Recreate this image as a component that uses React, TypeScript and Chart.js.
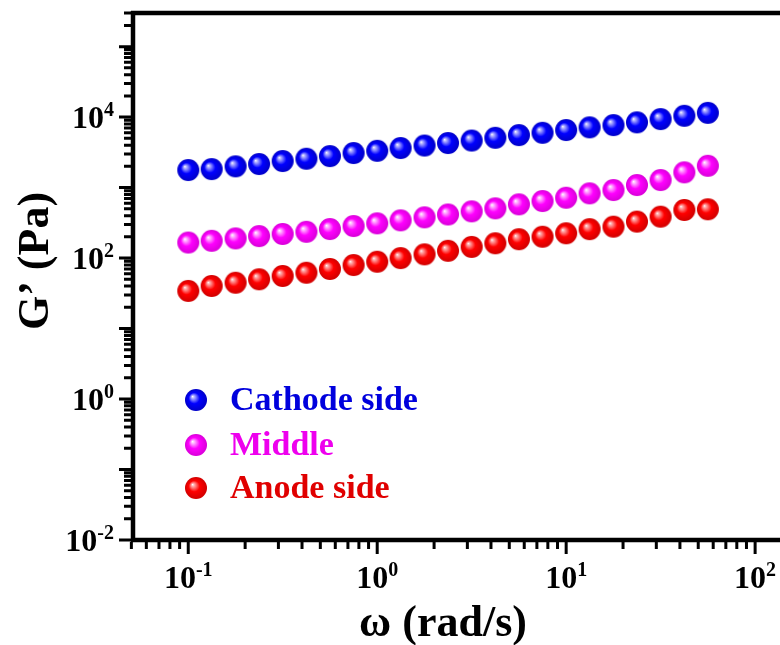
import React, { useEffect, useRef } from "react";
import { Chart, registerables } from "chart.js";

Chart.register(...registerables);

// Angular frequency (rad/s)
const FREQ = [0.1, 0.133, 0.178, 0.237, 0.316, 0.422, 0.562, 0.75, 1, 1.33, 1.78, 2.37, 3.16, 4.22, 5.62, 7.5, 10, 13.3, 17.8, 23.7, 31.6, 42.2, 56.2];
// G' (Pa)
const CATHODE = [1775, 1830, 2000, 2160, 2380, 2570, 2800, 3090, 3330, 3640, 3950, 4290, 4650, 5090, 5560, 5990, 6550, 7160, 7710, 8430, 9380, 10450, 11500];
const MIDDLE = [166, 176, 190, 205, 220, 236, 258, 285, 311, 343, 378, 416, 460, 508, 579, 645, 718, 829, 923, 1087, 1279, 1647, 2041];
const ANODE = [34.2, 40.2, 44.7, 50, 55.7, 62, 70, 79.7, 88.8, 100, 113, 127, 144, 162, 185, 201, 225, 257, 279, 329, 387, 481, 492];

const SERIES_LABELS = ["Cathode side", "Middle", "Anode side"];
const X_LABEL_EXPONENTS = [-1, 0, 1, 2];
const Y_LABEL_EXPONENTS = [-2, 0, 2, 4];
const X_TITLE = "ω (rad/s)";
const Y_TITLE = "G’ (Pa)";

const FONT = "'Liberation Serif', 'Times New Roman', serif";

function makeSphere(base: string, light: string, dark: string, r: number) {
  const size = Math.ceil(r * 2 + 2);
  const c = document.createElement("canvas");
  c.width = size;
  c.height = size;
  const g = c.getContext("2d")!;
  const cx = size / 2;
  const cy = size / 2;
  const grad = g.createRadialGradient(cx - r * 0.32, cy - r * 0.32, 0, cx, cy, r);
  grad.addColorStop(0, "#ffffff");
  grad.addColorStop(0.12, light);
  grad.addColorStop(0.5, base);
  grad.addColorStop(1, dark);
  g.fillStyle = grad;
  g.beginPath();
  g.arc(cx, cy, r, 0, Math.PI * 2);
  g.fill();
  return c;
}

function drawPow(ctx: CanvasRenderingContext2D, exp: number, x: number, baseline: number, align: "center" | "right") {
  const baseFont = `bold 32px ${FONT}`;
  const supFont = `bold 20px ${FONT}`;
  const supText = exp < 0 ? "-" + Math.abs(exp) : String(exp);
  ctx.font = baseFont;
  const w1 = ctx.measureText("10").width;
  ctx.font = supFont;
  const w2 = ctx.measureText(supText).width;
  const total = w1 + w2;
  const start = align === "center" ? x - total / 2 : x - total;
  ctx.textAlign = "left";
  ctx.textBaseline = "alphabetic";
  ctx.font = baseFont;
  ctx.fillText("10", start, baseline);
  ctx.font = supFont;
  ctx.fillText(supText, start + w1, baseline - 12);
}

export default function App() {
  const ref = useRef<HTMLCanvasElement | null>(null);

  useEffect(() => {
    if (!ref.current) return;
    const R = 11;
    const spheres = [
      makeSphere("#0000ff", "#b8b8ff", "#0000c8", R),
      makeSphere("#ff00ff", "#ffc0ff", "#d800d8", R),
      makeSphere("#ff0000", "#ffb0b0", "#d00000", R),
    ];
    const textColors = ["#0000dd", "#ee00ee", "#e00000"];
    const series = [CATHODE, MIDDLE, ANODE];

    const axesPlugin = {
      id: "customAxes",
      afterDraw(chart: any) {
        const { ctx, chartArea } = chart;
        const { left: L, top: T, right: Rt, bottom: B } = chartArea;
        const xs = chart.scales.x;
        const ys = chart.scales.y;
        ctx.save();
        ctx.fillStyle = "#000";
        ctx.strokeStyle = "#000";
        // frame
        ctx.lineWidth = 4.5;
        ctx.beginPath();
        ctx.moveTo(L, T - 2);
        ctx.lineTo(L, B + 2);
        ctx.moveTo(L - 2, T);
        ctx.lineTo(Rt + 2, T);
        ctx.moveTo(L - 2, B);
        ctx.lineTo(Rt + 2, B);
        ctx.moveTo(Rt, T - 2);
        ctx.lineTo(Rt, B + 2);
        ctx.stroke();

        // ticks
        ctx.lineWidth = 3;
        ctx.beginPath();
        for (let d = -3; d <= 3; d++) {
          for (let m = 1; m <= 9; m++) {
            const v = m * Math.pow(10, d);
            if (v >= xs.min * 0.97 && v <= xs.max * 1.001) {
              const px = xs.getPixelForValue(v);
              const len = m === 1 ? 12 : 7;
              ctx.moveTo(px, B + 2);
              ctx.lineTo(px, B + 2 + len);
            }
          }
        }
        for (let d = -3; d <= 6; d++) {
          for (let m = 1; m <= 9; m++) {
            const v = m * Math.pow(10, d);
            if (v >= ys.min * 0.999 && v <= ys.max * 1.001) {
              const py = ys.getPixelForValue(v);
              const len = m === 1 ? 12 : 7;
              ctx.moveTo(L - 2, py);
              ctx.lineTo(L - 2 - len, py);
            }
          }
        }
        ctx.stroke();

        // tick labels
        for (const e of X_LABEL_EXPONENTS) {
          const px = xs.getPixelForValue(Math.pow(10, e));
          drawPow(ctx, e, px, B + 48, "center");
        }
        for (const e of Y_LABEL_EXPONENTS) {
          const py = ys.getPixelForValue(Math.pow(10, e));
          drawPow(ctx, e, L - 19, py + 11, "right");
        }

        // axis titles
        ctx.font = `bold 44px ${FONT}`;
        ctx.textAlign = "center";
        ctx.textBaseline = "alphabetic";
        ctx.fillText(X_TITLE, 443, 636);
        ctx.save();
        ctx.translate(48, 261);
        ctx.rotate(-Math.PI / 2);
        ctx.fillText(Y_TITLE, 0, 0);
        ctx.restore();

        // legend
        const legendY = [400, 445, 488];
        ctx.font = `bold 34px ${FONT}`;
        ctx.textAlign = "left";
        SERIES_LABELS.forEach((lab, i) => {
          const img = spheres[i];
          ctx.drawImage(img, 196 - img.width / 2, legendY[i] - img.height / 2);
          ctx.fillStyle = textColors[i];
          ctx.fillText(lab, 230, legendY[i] + 10);
        });
        ctx.restore();
      },
    };

    const chart = new Chart(ref.current, {
      type: "scatter",
      data: {
        datasets: series.map((vals, i) => ({
          label: SERIES_LABELS[i],
          data: FREQ.map((f, j) => ({ x: f, y: vals[j] })),
          pointStyle: spheres[i] as any,
          pointRadius: R,
          showLine: false,
        })),
      },
      options: {
        responsive: false,
        animation: false,
        events: [],
        layout: { padding: { left: 133, top: 13, right: 18, bottom: 105 }, autoPadding: false } as any,
        plugins: { legend: { display: false }, tooltip: { enabled: false } },
        scales: {
          x: { type: "logarithmic", min: 0.051, max: 200, display: false },
          y: { type: "logarithmic", min: 0.01, max: 3e5, display: false },
        },
      },
      plugins: [axesPlugin],
    });
    return () => chart.destroy();
  }, []);

  return (
    <div style={{ position: "fixed", left: 0, top: 0, width: 780, height: 645, overflow: "hidden", background: "#fff" }}>
      <canvas ref={ref} width={830} height={645} style={{ display: "block" }} />
    </div>
  );
}
